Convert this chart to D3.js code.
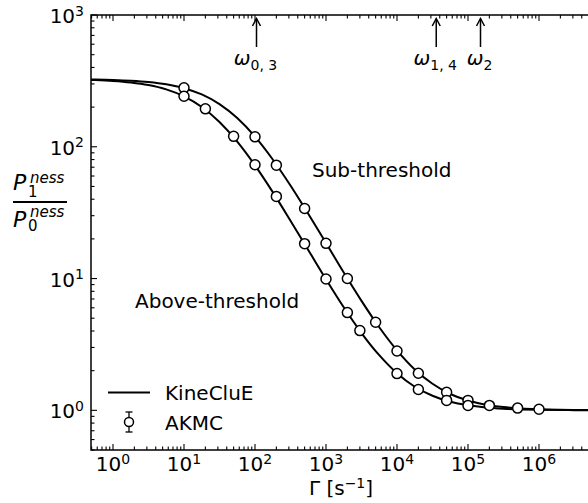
<!DOCTYPE html>
<html>
<head>
<meta charset="utf-8">
<script src="https://cdn.jsdelivr.net/npm/d3@7"></script>
<style>
  html, body { margin: 0; padding: 0; background: #fff; overflow: hidden; }
  text { font-family: "DejaVu Sans", sans-serif; fill: #000; }
</style>
</head>
<body>
<svg id="chart" width="588" height="503"></svg>
<script>
// ---- Data ----
const curveGamma = [0.316, 0.562, 1, 1.78, 3.16, 5.62, 10, 17.8, 31.6, 56.2, 100, 178, 316, 562, 1000, 1778, 3162, 5623, 1e4, 17783, 31623, 56234, 1e5, 177828, 316228, 562341, 1e6, 3.16e6, 1e7];
const kineSub = [325.2, 323.8, 321.4, 317.1, 309.9, 297.7, 278.3, 249.5, 210.7, 165.1, 119.4, 80.1, 50.8, 31.0, 18.6, 11.1, 6.77, 4.27, 2.85, 2.04, 1.59, 1.33, 1.186, 1.104, 1.059, 1.033, 1.019, 1.006, 1.002];
const kineAbove = [323.4, 320.6, 315.8, 307.5, 293.9, 272.5, 241.2, 200.4, 154.1, 109.4, 72.3, 45.3, 27.5, 16.5, 9.88, 6.05, 3.86, 2.62, 1.91, 1.51, 1.29, 1.16, 1.091, 1.051, 1.029, 1.016, 1.009, 1.003, 1.001];

const akmcSubGamma = [10, 100, 200, 500, 1000, 2000, 5000, 1e4, 2e4, 5e4, 1e5, 2e5, 5e5, 1e6];
const akmcSub = [280, 119, 72.5, 34, 18.5, 10, 4.66, 2.82, 1.91, 1.37, 1.19, 1.09, 1.04, 1.02];
const akmcAboveGamma = [10, 20, 50, 100, 200, 500, 1000, 2000, 3000, 1e4, 2e4, 5e4, 1e5];
const akmcAbove = [242, 194, 120, 73, 42, 18.4, 9.93, 5.52, 4.03, 1.90, 1.44, 1.19, 1.09];

const omegaGamma = [105, 35700, 150000];
const omegaSub = ["0, 3", "1, 4", "2"];

const xTickExp = [0, 1, 2, 3, 4, 5, 6];
const yTickExp = [0, 1, 2, 3];
const legendLabels = ["KineCluE", "AKMC"];
const regionLabels = ["Sub-threshold", "Above-threshold"];

// ---- Layout ----
const svg = d3.select("#chart");
const L = 91, R = 591, T = 15, B = 450;
const x = d3.scaleLog().domain([0.49, 5.4e6]).range([L, R]);
const y = d3.scaleLog().domain([0.5, 1000]).range([B, T]);

svg.append("defs").append("clipPath").attr("id", "clip")
  .append("rect").attr("x", L).attr("y", T).attr("width", R - L).attr("height", B - T);

// ---- Ticks (inward) ----
function minorTicks(scale) {
  const [a, b] = scale.domain();
  const out = [];
  for (let e = Math.floor(Math.log10(a)); e <= Math.ceil(Math.log10(b)); e++) {
    for (let m = 2; m <= 9; m++) {
      const v = m * Math.pow(10, e);
      if (v >= a && v <= b) out.push(v);
    }
  }
  return out;
}
const xMajor = xTickExp.map(e => Math.pow(10, e));
const yMajor = yTickExp.map(e => Math.pow(10, e));
const xMinor = minorTicks(x), yMinor = minorTicks(y);
const tickG = svg.append("g").attr("stroke", "#000").attr("stroke-width", 1.1);
const MJ = 6, MN = 3.5;
xMajor.forEach(v => {
  tickG.append("line").attr("x1", x(v)).attr("x2", x(v)).attr("y1", B).attr("y2", B - MJ);
  tickG.append("line").attr("x1", x(v)).attr("x2", x(v)).attr("y1", T).attr("y2", T + MJ);
});
xMinor.forEach(v => {
  tickG.append("line").attr("x1", x(v)).attr("x2", x(v)).attr("y1", B).attr("y2", B - MN);
  tickG.append("line").attr("x1", x(v)).attr("x2", x(v)).attr("y1", T).attr("y2", T + MN);
});
yMajor.forEach(v => {
  tickG.append("line").attr("x1", L).attr("x2", L + MJ).attr("y1", y(v)).attr("y2", y(v));
});
yMinor.forEach(v => {
  tickG.append("line").attr("x1", L).attr("x2", L + MN).attr("y1", y(v)).attr("y2", y(v));
});

// spines
svg.append("rect").attr("x", L).attr("y", T).attr("width", R - L).attr("height", B - T)
  .attr("fill", "none").attr("stroke", "#000").attr("stroke-width", 1.5);

// tick labels
xTickExp.forEach(e => {
  const t = svg.append("text").attr("x", x(Math.pow(10, e))).attr("y", 471)
    .attr("text-anchor", "middle").attr("font-size", 20);
  t.append("tspan").text("10");
  t.append("tspan").attr("font-size", 14).attr("dy", -7.5).text(e);
});
yTickExp.forEach(e => {
  const t = svg.append("text").attr("x", 84).attr("y", y(Math.pow(10, e)) + 8)
    .attr("text-anchor", "end").attr("font-size", 20);
  t.append("tspan").text("10");
  t.append("tspan").attr("font-size", 14).attr("dy", -7.5).text(e);
});

// axis label x
const xl = svg.append("text").attr("x", 341).attr("y", 494.5).attr("text-anchor", "middle").attr("font-size", 20);
xl.append("tspan").text("Γ [s");
xl.append("tspan").attr("font-size", 14).attr("dy", -6.5).text("−1");
xl.append("tspan").attr("dy", 6.5).text("]");

// axis label y (fraction) as one text element with positioned tspans
const yl = svg.append("text").attr("font-size", 22);
function fracPart(pBase, subBase, supBase, sub) {
  yl.append("tspan").attr("x", 13).attr("y", pBase).attr("font-style", "italic").text("P");
  yl.append("tspan").attr("x", 28).attr("y", subBase).attr("font-size", 15).text(sub);
  yl.append("tspan").attr("x", 30).attr("y", supBase).attr("font-size", 15)
    .attr("font-style", "italic").text("ness");
}
fracPart(190, 196.5, 183, "1");
fracPart(227, 230.5, 216.5, "0");
svg.append("line").attr("x1", 13).attr("x2", 67).attr("y1", 202).attr("y2", 202)
  .attr("stroke", "#000").attr("stroke-width", 2);

// ---- Curves ----
const plot = svg.append("g").attr("clip-path", "url(#clip)");
const line = d3.line().x(d => x(d[0])).y(d => y(d[1])).curve(d3.curveMonotoneX);
[kineSub, kineAbove].forEach(vals => {
  plot.append("path").datum(curveGamma.map((g, i) => [g, vals[i]]))
    .attr("d", line).attr("fill", "none").attr("stroke", "#000").attr("stroke-width", 2);
});
[[akmcSubGamma, akmcSub], [akmcAboveGamma, akmcAbove]].forEach(([gs, vs]) => {
  plot.selectAll(null).data(gs.map((g, i) => [g, vs[i]])).enter().append("circle")
    .attr("cx", d => x(d[0])).attr("cy", d => y(d[1])).attr("r", 5)
    .attr("fill", "#fff").attr("stroke", "#000").attr("stroke-width", 1.5);
});

// ---- Region labels ----
svg.append("text").attr("x", 312).attr("y", 177).attr("font-size", 20).text(regionLabels[0]);
svg.append("text").attr("x", 135).attr("y", 308).attr("font-size", 20).text(regionLabels[1]);

// ---- Omega arrows ----
omegaGamma.forEach((g, i) => {
  const cx = x(g);
  svg.append("line").attr("x1", cx).attr("x2", cx).attr("y1", 47).attr("y2", 18.5)
    .attr("stroke", "#000").attr("stroke-width", 1.5);
  svg.append("path").attr("d", `M${cx - 4},${26} L${cx},${18.5} L${cx + 4},${26}`)
    .attr("fill", "none").attr("stroke", "#000").attr("stroke-width", 1.5);
  const t = svg.append("text").attr("x", cx - 1).attr("y", 65).attr("text-anchor", "middle").attr("font-size", 20);
  t.append("tspan").attr("font-style", "italic").text("ω");
  t.append("tspan").attr("font-size", 14).attr("dy", 5).text(omegaSub[i]);
});

// ---- Legend ----
svg.append("line").attr("x1", 108).attr("x2", 150).attr("y1", 392.5).attr("y2", 392.5)
  .attr("stroke", "#000").attr("stroke-width", 2);
svg.append("text").attr("x", 165).attr("y", 400).attr("font-size", 20).text(legendLabels[0]);
const lm = 129, lmy = 422;
svg.append("line").attr("x1", lm).attr("x2", lm).attr("y1", 412).attr("y2", 432).attr("stroke", "#000").attr("stroke-width", 1.3);
svg.append("line").attr("x1", lm - 3.5).attr("x2", lm + 3.5).attr("y1", 412).attr("y2", 412).attr("stroke", "#000").attr("stroke-width", 1.3);
svg.append("line").attr("x1", lm - 3.5).attr("x2", lm + 3.5).attr("y1", 432).attr("y2", 432).attr("stroke", "#000").attr("stroke-width", 1.3);
svg.append("circle").attr("cx", lm).attr("cy", lmy).attr("r", 4.5).attr("fill", "#fff").attr("stroke", "#000").attr("stroke-width", 1.5);
svg.append("text").attr("x", 165).attr("y", 430).attr("font-size", 20).text(legendLabels[1]);
</script>
</body>
</html>
